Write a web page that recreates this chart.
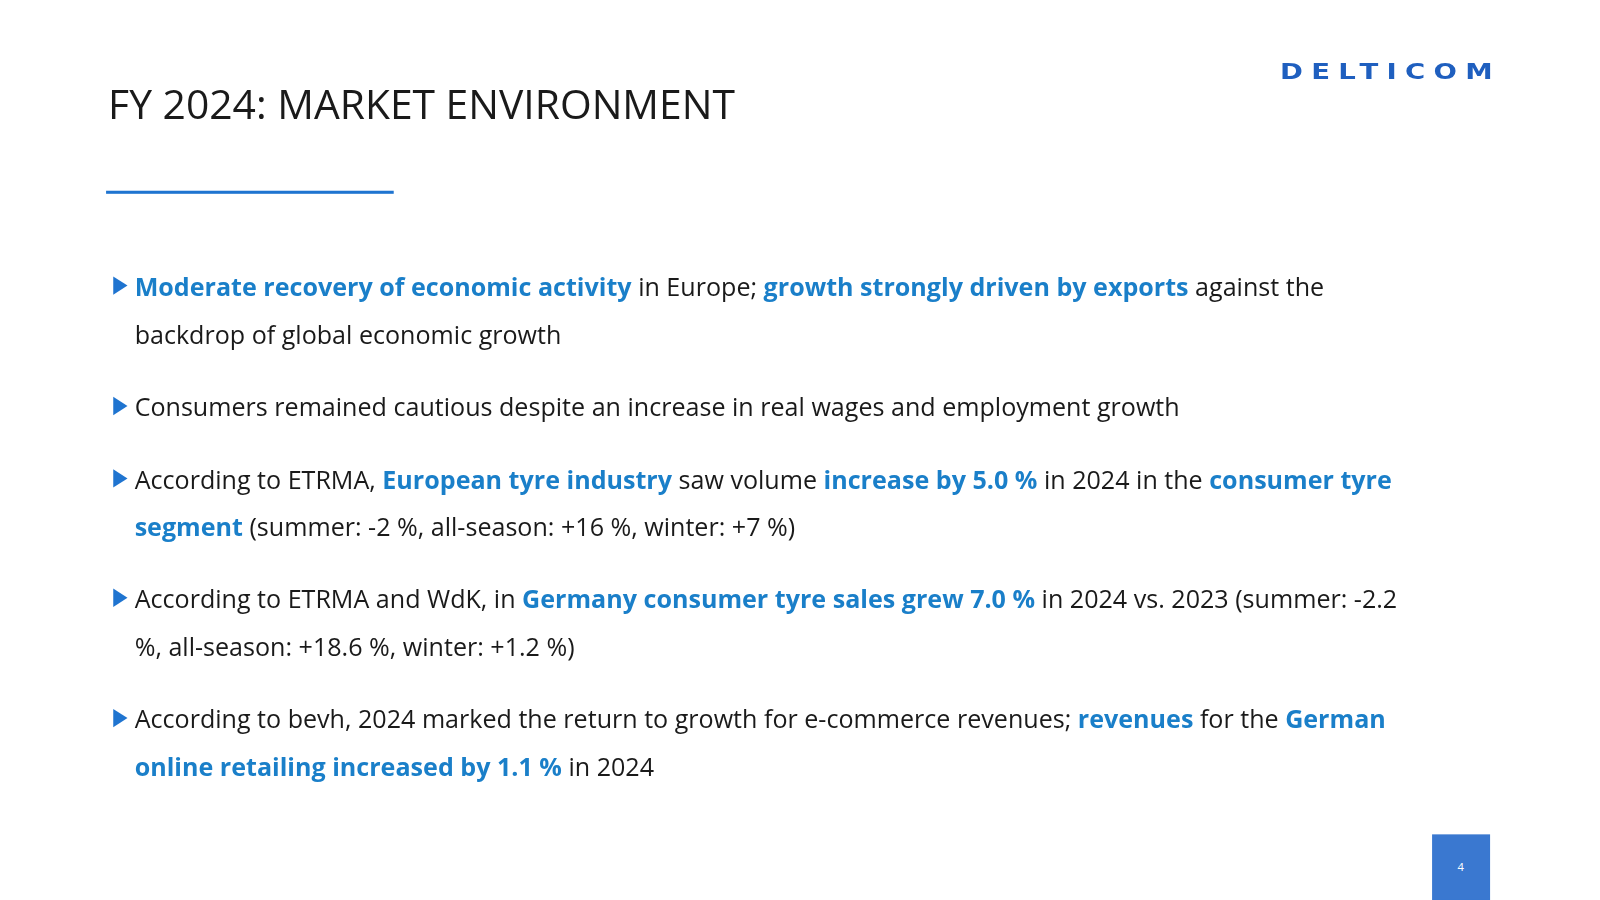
<!DOCTYPE html>
<html>
<head>
<meta charset="utf-8">
<script src="https://cdn.jsdelivr.net/npm/chart.js@4"></script>
<style>
  body { margin: 0; width: 1600px; height: 900px; background: #fff; overflow: hidden;
         font-family: "Open Sans", "Noto Sans", sans-serif; color: #1a1a1a; }
  .slide { position: relative; width: 1600px; height: 900px; transform: scale(1.02); transform-origin: 0 0; }
  .title { position: absolute; left: 106px; top: 74px; font-size: 40px; }
  .rule { position: absolute; left: 104px; top: 187px; width: 282px; height: 3px; background: #1f74d0; }
  .logo { position: absolute; left: 1255px; top: 58px; font-family: "DejaVu Sans", sans-serif; font-weight: bold;
          font-size: 20px; letter-spacing: 6px; color: #1f5fbf; transform: scaleX(1.35); transform-origin: left; }
  .bullets { position: absolute; left: 132px; top: 258px; width: 1270px; font-size: 24.6px; line-height: 46.6px; }
  .b { position: relative; margin-bottom: 24.5px; }
  .b::before { content: ""; position: absolute; left: -21px; top: 13px; border-left: 14px solid #1f74d0;
               border-top: 9px solid transparent; border-bottom: 9px solid transparent; }
  .hl { color: #1a7fc9; font-weight: bold; }
  .page { position: absolute; left: 1404px; top: 818px; width: 56px; height: 64px; background: #3a78d0;
          color: #fff; font-size: 11px; text-align: center; line-height: 64px; }
</style>
</head>
<body>
<div class="slide">
<div class="title">FY 2024: MARKET ENVIRONMENT</div>
<div class="rule"></div>
<div class="logo">DELTICOM</div>
<div class="bullets" id="bullets"></div>
<div class="page">4</div>
</div>
<script>
// bullet texts: [text, highlighted]
const bullet1 = [["Moderate recovery of economic activity", 1], [" in Europe; ", 0], ["growth strongly driven by exports", 1], [" against the backdrop of global economic growth", 0]];
const bullet2 = [["Consumers remained cautious despite an increase in real wages and employment growth", 0]];
const bullet3 = [["According to ETRMA, ", 0], ["European tyre industry", 1], [" saw volume ", 0], ["increase by 5.0 %", 1], [" in 2024 in the ", 0], ["consumer tyre segment", 1], [" (summer: -2 %, all-season: +16 %, winter: +7 %)", 0]];
const bullet4 = [["According to ETRMA and WdK, in ", 0], ["Germany consumer tyre sales grew 7.0 %", 1], [" in 2024 vs. 2023 (summer: -2.2 %, all-season: +18.6 %, winter: +1.2 %)", 0]];
const bullet5 = [["According to bevh, 2024 marked the return to growth for e-commerce revenues; ", 0], ["revenues", 1], [" for the ", 0], ["German online retailing increased by 1.1 %", 1], [" in 2024", 0]];

const box = document.getElementById('bullets');
[bullet1, bullet2, bullet3, bullet4, bullet5].forEach(parts => {
  const d = document.createElement('div');
  d.className = 'b';
  parts.forEach(([t, h]) => {
    const s = document.createElement('span');
    if (h) s.className = 'hl';
    s.textContent = t;
    d.appendChild(s);
  });
  box.appendChild(d);
});
</script>
</body>
</html>
